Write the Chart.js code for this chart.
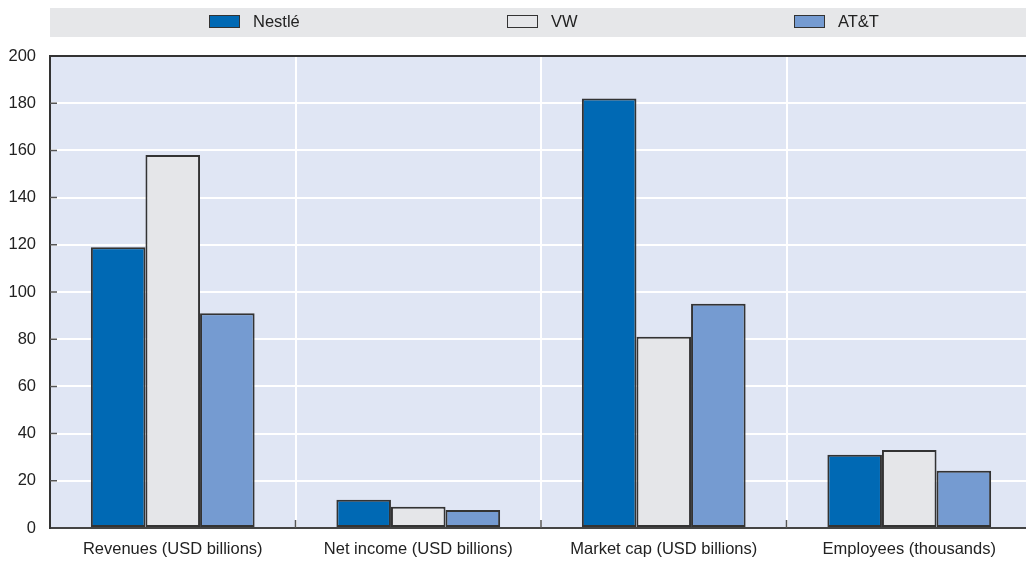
<!DOCTYPE html>
<html>
<head>
<meta charset="utf-8">
<script src="https://cdn.jsdelivr.net/npm/chart.js@4"></script>
<style>
  html, body { margin: 0; padding: 0; background: #fff; }
  #wrap { width: 1026px; height: 564px; overflow: hidden; }
</style>
</head>
<body>
<div id="wrap"><canvas id="myChart" width="1040" height="564"></canvas></div>
<script>
'use strict';

// chart values
var categories = ['Revenues (USD billions)', 'Net income (USD billions)', 'Market cap (USD billions)', 'Employees (thousands)'];
var seriesNames = ['Nestlé', 'VW', 'AT&T'];
var nestle = [119, 12, 182, 31];
var vw = [158, 9, 81, 33];
var att = [91, 7.6, 95, 24.3];
var yTicks = [0, 20, 40, 60, 80, 100, 120, 140, 160, 180, 200];

var colors = ['#0069b4', '#e5e6e9', '#759bd1'];
var font = "'Liberation Sans', Arial, sans-serif";

// plot background, top border, inner ticks and the legend band
var decor = {
    id: 'decor',
    beforeDraw: function (chart) {
        var ctx = chart.ctx;
        var a = chart.chartArea;
        ctx.save();
        ctx.fillStyle = '#e0e6f4';
        ctx.fillRect(a.left, a.top, a.right - a.left, a.bottom - a.top);

        // legend
        ctx.fillStyle = '#e6e7e9';
        ctx.fillRect(50, 8, chart.width - 50, 29);
        var xs = [209, 507, 794];
        ctx.font = '16.5px ' + font;
        ctx.textBaseline = 'middle';
        for (var i = 0; i < seriesNames.length; i++) {
            ctx.fillStyle = colors[i];
            ctx.fillRect(xs[i], 15, 31, 13);
            ctx.strokeStyle = '#333';
            ctx.lineWidth = 1;
            ctx.strokeRect(xs[i] + 0.5, 15.5, 30, 12);
            ctx.fillStyle = '#222';
            ctx.fillText(seriesNames[i], xs[i] + 44, 22);
        }
        ctx.restore();
    },
    afterDraw: function (chart) {
        var ctx = chart.ctx;
        var a = chart.chartArea;
        var y = chart.scales.y;
        var x = chart.scales.x;
        ctx.save();
        ctx.strokeStyle = '#333';
        ctx.lineWidth = 2;
        ctx.beginPath();
        ctx.moveTo(a.left - 1, a.top);
        ctx.lineTo(a.right, a.top);
        ctx.stroke();
        ctx.lineWidth = 1.5;
        ctx.strokeStyle = '#555';
        ctx.beginPath();
        for (var i = 1; i < yTicks.length - 1; i++) {
            var py = y.getPixelForValue(yTicks[i]);
            ctx.moveTo(a.left, py);
            ctx.lineTo(a.left + 7, py);
        }
        for (var j = 1; j < categories.length; j++) {
            var px = (x.getPixelForValue(j - 1) + x.getPixelForValue(j)) / 2;
            ctx.moveTo(px, a.bottom);
            ctx.lineTo(px, a.bottom - 8);
        }
        ctx.stroke();
        ctx.restore();
    }
};

var ctx = document.getElementById('myChart').getContext('2d');
var chart = new Chart(ctx, {
    type: 'bar',
    data: {
        labels: categories,
        datasets: [
            { label: seriesNames[0], data: nestle, backgroundColor: colors[0] },
            { label: seriesNames[1], data: vw, backgroundColor: colors[1] },
            { label: seriesNames[2], data: att, backgroundColor: colors[2] }
        ]
    },
    options: {
        responsive: false,
        animation: false,
        layout: { padding: { top: 56, right: 8, left: 0, bottom: 0 } },
        datasets: {
            bar: {
                borderColor: '#333',
                borderWidth: 2,
                borderSkipped: false,
                barPercentage: 1,
                categoryPercentage: 0.667
            }
        },
        plugins: {
            legend: { display: false },
            tooltip: { enabled: false }
        },
        scales: {
            x: {
                grid: { color: '#ffffff', lineWidth: 2, offset: true, drawTicks: false },
                border: { display: true, color: '#444', width: 2 },
                ticks: { color: '#222', font: { family: font, size: 16.5 }, padding: 12, maxRotation: 0 },
                afterFit: function (s) { s.height = 36; }
            },
            y: {
                min: 0,
                max: 200,
                grid: { color: '#ffffff', lineWidth: 2, drawTicks: false },
                border: { display: true, color: '#333', width: 2 },
                ticks: {
                    stepSize: 20,
                    color: '#222',
                    padding: 14,
                    font: { family: font, size: 16.5 }
                },
                afterFit: function (s) { s.width = 50; }
            }
        }
    },
    plugins: [decor]
});
</script>
</body>
</html>
